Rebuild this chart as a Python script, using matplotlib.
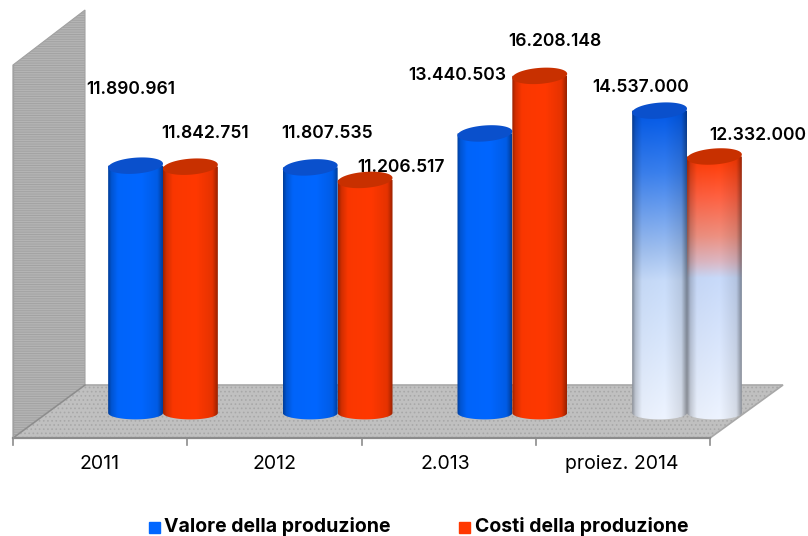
import numpy as np
import matplotlib
matplotlib.use("Agg")
from matplotlib import pyplot as plt
from matplotlib.colors import to_rgb
from matplotlib.patches import Polygon, PathPatch, Rectangle
from matplotlib.path import Path

categories = ["2011", "2012", "2.013", "proiez. 2014"]
valore = [11890961, 11807535, 13440503, 14537000]
costi = [11842751, 11206517, 16208148, 12332000]
legend_names = ["Valore della produzione", "Costi della produzione"]

W, H = 808, 536
PX_PER_VALUE = 20.8 / 1e6
BASE_PX = 413
GROUP_PX = 174.67
FIRST_PX = 163

plt.rcParams['font.family'] = ['Inter', 'DejaVu Sans']
plt.rcParams['hatch.linewidth'] = 0.7

fig = plt.figure(figsize=(W / 100, H / 100), dpi=100)

# background in pixel coordinates: walls, floor, ticks, texts
bg = fig.add_axes([0, 0, 1, 1])
bg.set_xlim(0, W)
bg.set_ylim(H, 0)
bg.axis('off')

# chart axes: x = category index, y = value
ax = fig.add_axes([0, 0, 1, 1], facecolor='none')
ax.set_xlim(-FIRST_PX / GROUP_PX, (W - FIRST_PX) / GROUP_PX)
ax.set_ylim((BASE_PX - H) / PX_PER_VALUE, BASE_PX / PX_PER_VALUE)
ax.axis('off')

bg.add_patch(Polygon([(13, 65), (85, 10), (85, 385), (13, 438)], facecolor='#b4b4b4',
                     edgecolor='#a2a2a2', hatch='-------', lw=0.8))
bg.add_patch(Polygon([(85, 385), (783, 385), (710, 438), (13, 438)], facecolor='#c0c0c0',
                     edgecolor='#a8a8a8', hatch='....', lw=1.2))
bg.plot([13, 85], [438, 385], color='#8c8c8c', lw=1)
bg.plot([13, 710], [438, 438], color='#8c8c8c', lw=1.6)
bg.plot([13, 13], [65, 438], color='#a0a0a0', lw=1)
for i in range(5):
    tick = 13 + i * 174.25
    bg.plot([tick, tick], [438, 445], color='#8c8c8c', lw=1.2)


def stops(colors, fracs, n=300):
    rgb = np.array([to_rgb(c) for c in colors])
    t = np.linspace(0, 1, n)
    return np.stack([np.interp(t, fracs, rgb[:, k]) for k in range(3)], axis=1)


def shade(n=120):
    # dark rim, bright middle of the cylinder
    t = np.linspace(0, 1, n)
    return np.interp(t, [0, 0.06, 0.18, 0.6, 0.9, 1], [0.6, 0.82, 0.98, 1.0, 0.9, 0.6])


def cylinder(xc, value, vertical, lid):
    hw = 0.157
    ry = 8 / PX_PER_VALUE
    tilt = 2.0 / PX_PER_VALUE
    th = np.linspace(0, 2 * np.pi, 80)
    low = np.linspace(np.pi, 2 * np.pi, 40)
    # body outline: round the bottom, up the right side, back across the top
    xs = np.r_[xc + hw * np.cos(low), xc + hw, xc - hw]
    ys = np.r_[ry * 0.8 * np.sin(low), value, value]
    body = Path(np.c_[xs, ys])
    img = vertical[:, None, :] * shade()[None, :, None]
    im = ax.imshow(img, extent=[xc - hw, xc + hw, -ry, value], origin='upper',
                   aspect='auto', interpolation='bilinear', zorder=3)
    im.set_clip_path(PathPatch(body, transform=ax.transData))
    ex = xc + hw * np.cos(th)
    ey = value + ry * np.sin(th) + tilt * np.cos(th)
    ax.fill(ex, ey, color=lid, zorder=3, lw=0)


BLUE = stops(['#0066ff', '#0066ff'], [0, 1])
RED = stops(['#ff3800', '#ff3800'], [0, 1])
BLUE_FADE = stops(['#0058e8', '#3a80ee', '#a0c0f0', '#c8dcfa', '#eef4ff'], [0, 0.2, 0.45, 0.55, 1])
RED_FADE = stops(['#ff3800', '#ff6040', '#ee9080', '#dcb8c4', '#c8dafa', '#eef4ff'],
                 [0, 0.15, 0.3, 0.4, 0.46, 1])

for i in range(len(categories)):
    last = i == len(categories) - 1
    cylinder(i - 0.157, valore[i], BLUE_FADE if last else BLUE, '#0a50cc')
    cylinder(i + 0.157, costi[i], RED_FADE if last else RED, '#c83000')

label_texts = ["11.890.961", "11.842.751", "11.807.535", "11.206.517",
               "13.440.503", "16.208.148", "14.537.000", "12.332.000"]
label_spots = [(131, 89), (205, 134), (327, 134), (401, 167),
               (457, 76), (555, 41), (641, 87), (758, 135)]
for txt, (lx, ly) in zip(label_texts, label_spots):
    bg.text(lx, ly, txt, ha='center', va='center', fontsize=12.6, fontweight='semibold',
            color='black', zorder=6)

for cat, cx in zip(categories, [100, 275, 445, 622]):
    bg.text(cx, 464, cat, ha='center', va='center', fontsize=14, color='black')

bg.add_patch(Rectangle((149, 522), 11, 11, color='#0066ff'))
bg.add_patch(Rectangle((459, 522), 11, 11, color='#ff3800'))
bg.text(164, 527, legend_names[0], ha='left', va='center', fontsize=14, fontweight='bold')
bg.text(475, 527, legend_names[1], ha='left', va='center', fontsize=14, fontweight='bold')

fig.savefig("out.png", dpi=100)
